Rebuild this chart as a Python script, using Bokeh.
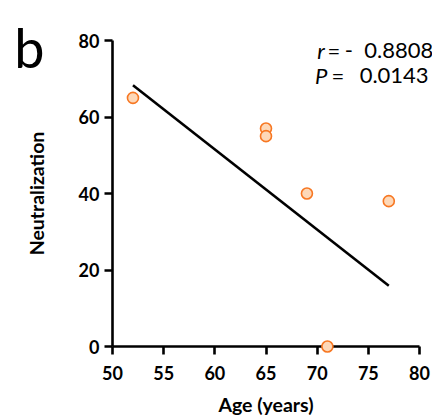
from bokeh.plotting import figure
from bokeh.models import FixedTicker, Range1d
from bokeh.core.properties import value
from bokeh.embed import file_html
from bokeh.resources import INLINE

# Neutralization vs. donor age
age = [52, 65, 65, 69, 71, 77]
neutralization = [65, 57, 55, 40, 0, 38]

# Fitted trend line endpoints
fit_age = [52, 77]
fit_neutralization = [68.3, 15.9]

x_ticks = [50, 55, 60, 65, 70, 75, 80]
y_ticks = [0, 20, 40, 60, 80]

r_value = "0.8808"
p_value = "0.0143"

FONT = "Lato"

p = figure(
    frame_width=307, frame_height=306,
    x_range=Range1d(50, 80), y_range=Range1d(0, 80),
    output_backend="svg", toolbar_location=None,
    min_border_left=112, min_border_right=13,
    min_border_top=40, min_border_bottom=74,
)
p.outline_line_color = None
p.xgrid.visible = False
p.ygrid.visible = False
p.background_fill_color = "white"
p.border_fill_color = "white"

for ax in (p.xaxis[0], p.yaxis[0]):
    ax.axis_line_width = 2.6
    ax.axis_line_color = "black"
    ax.major_tick_line_width = 2.6
    ax.major_tick_line_color = "black"
    ax.major_tick_out = 8
    ax.major_tick_in = 0
    ax.minor_tick_line_color = None
    ax.major_label_text_font = FONT
    ax.major_label_text_font_style = "bold"
    ax.major_label_text_font_size = "18px"
    ax.major_label_text_color = "black"
    ax.axis_label_text_font = FONT
    ax.axis_label_text_font_style = "bold"
    ax.axis_label_text_font_size = "19.5px"
    ax.axis_label_text_color = "black"

p.xaxis.ticker = FixedTicker(ticks=x_ticks)
p.yaxis.ticker = FixedTicker(ticks=y_ticks)
p.xaxis.axis_label = "Age (years)"
p.yaxis.axis_label = "Neutralization"
p.xaxis.major_label_standoff = 11
p.yaxis.major_label_standoff = 5
p.xaxis.axis_label_standoff = 10
p.yaxis.axis_label_standoff = 28

# Regression line
line = p.line(fit_age, fit_neutralization, line_color="black", line_width=2.6)
line.level = "overlay"

# Individual donors
pts = p.scatter(age, neutralization, size=11, marker="circle",
                fill_color="#fdd8b8", line_color="#f77722", line_width=1.6)
pts.level = "overlay"


def put_text(x, y, s, size, style="normal"):
    r = p.text(x=[x], y=[y], text=[s], text_font=value(FONT),
               text_font_size=value(size), text_font_style=style,
               text_color="black", text_baseline="alphabetic",
               text_align="left")
    r.level = "overlay"
    return r


# Panel letter
put_text(40.4, 78.2, "b", "54px")

# Correlation statistics
put_text(70.0, 77.4, "r", "22px", "italic")
put_text(71.0, 77.4, "=", "22px")
put_text(72.7, 77.4, "-", "22px")
put_text(74.6, 77.4, r_value, "22px")

put_text(69.8, 70.85, "P", "22px", "italic")
put_text(71.4, 70.85, "=", "22px")
put_text(74.15, 70.85, p_value, "22px")

open("out.html", "w").write(file_html(p, INLINE))
